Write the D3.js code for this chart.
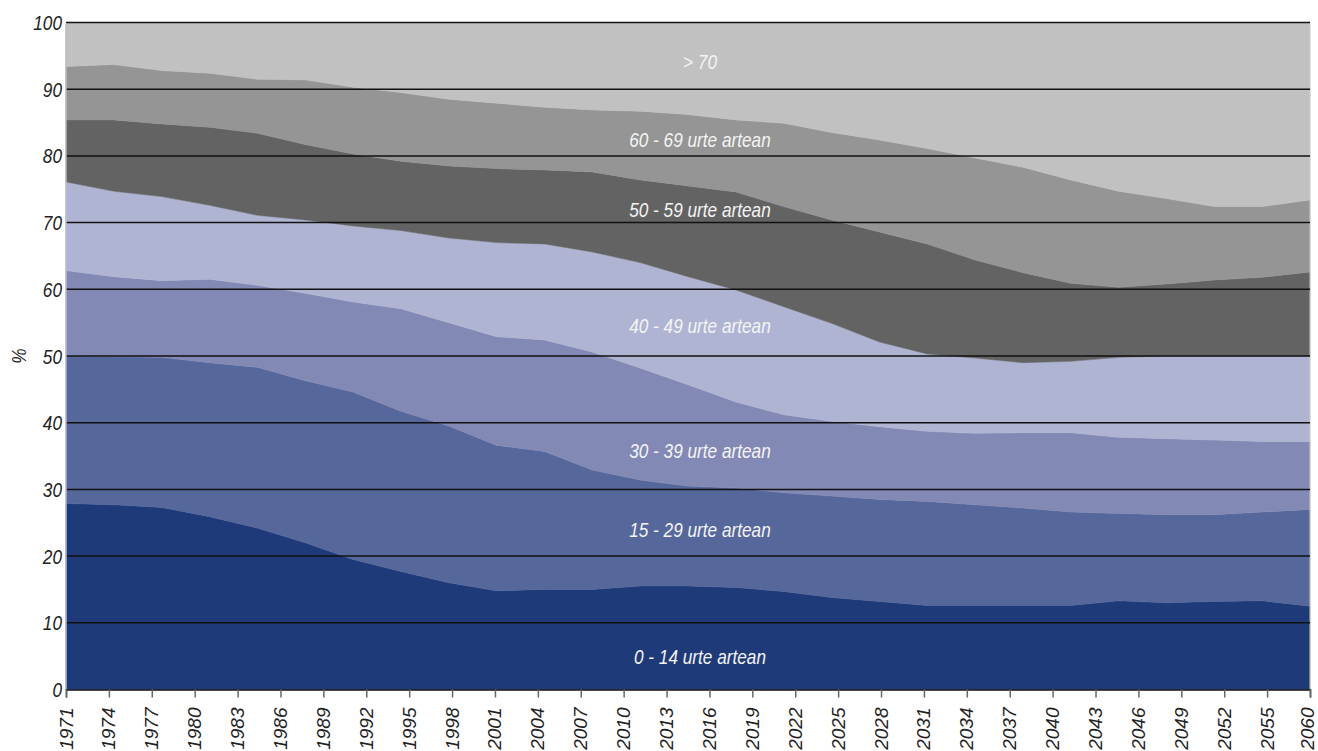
<!DOCTYPE html>
<html>
<head>
<meta charset="utf-8">
<script src="https://cdn.jsdelivr.net/npm/d3@7"></script>
<style>
  html, body { margin: 0; padding: 0; background: #ffffff; }
  svg { display: block; }
</style>
</head>
<body>
<svg id="chart" width="1318" height="751"></svg>
<script>
// Tick labels along the x axis
const tickLabels = ["1971","1974","1977","1980","1983","1986","1989","1992","1995","1998",
  "2001","2004","2007","2010","2013","2016","2019","2022","2025","2028",
  "2031","2034","2037","2040","2043","2046","2049","2052","2055","2060"];

// Age groups (bottom to top)
const groups = ["0 - 14 urte artean","15 - 29 urte artean","30 - 39 urte artean",
  "40 - 49 urte artean","50 - 59 urte artean","60 - 69 urte artean","> 70"];

// Shares (%) per data point (27 evenly spaced observations across the axis)
const age0_14  = [27.9,27.7,27.3,25.9,24.2,22.0,19.5,17.7,16.0,14.8,15.0,15.0,15.5,15.5,15.3,14.7,13.8,13.2,12.6,12.6,12.6,12.6,13.3,13.0,13.2,13.3,12.5];
const age15_29 = [22.1,22.2,22.5,23.1,24.1,24.3,25.1,24.0,23.5,21.8,20.7,17.9,15.9,15.0,14.9,14.8,15.2,15.3,15.6,15.1,14.6,14.0,13.1,13.2,13.0,13.3,14.5];
const age30_39 = [12.8,12.0,11.5,12.5,12.3,13.1,13.5,15.4,15.5,16.3,16.7,17.7,16.8,15.2,12.9,11.7,11.2,10.9,10.5,10.7,11.3,11.9,11.4,11.4,11.2,10.6,10.2];
const age40_49 = [13.3,12.8,12.6,11.1,10.5,11.0,11.4,11.7,12.7,14.1,14.4,15.0,15.8,16.2,16.8,16.2,14.7,12.7,11.6,11.3,10.5,10.7,12.0,12.4,12.6,12.8,12.8];
const age50_59 = [9.3,10.7,10.9,11.7,12.3,11.3,10.8,10.4,10.8,11.1,11.1,12.0,12.4,13.6,14.7,15.0,15.5,16.5,16.5,14.7,13.5,11.7,10.5,10.8,11.4,11.8,12.6];
const age60_69 = [8.0,8.3,8.0,8.1,8.1,9.7,10.0,10.3,10.0,9.8,9.4,9.3,10.3,10.7,10.8,12.5,13.1,13.8,14.3,15.3,15.8,15.5,14.4,12.8,11.0,10.6,10.8];
const age70    = [6.6,6.3,7.2,7.6,8.5,8.6,9.7,10.5,11.5,12.1,12.7,13.1,13.3,13.8,14.6,15.1,16.5,17.6,18.9,20.3,21.7,23.6,25.3,26.4,27.6,27.6,26.6];

const yTicks = [0,10,20,30,40,50,60,70,80,90,100];

const colors = ["#1e3a79","#55679b","#8389b5","#b0b4d3","#636363","#959595","#c1c1c1"];

// label anchor positions (in data units: index along series, value in %)
const labelIdx = [13.25,13.25,13.25,13.25,13.25,13.25,13.25];
const labelVal = [5.0,24.0,35.8,54.6,72.0,82.5,94.1];

// ---------------------------------------------------------------
const seriesArrays = [age0_14, age15_29, age30_39, age40_49, age50_59, age60_69, age70];
const nPts = age0_14.length;
const table = d3.range(nPts).map(i => {
  const row = {idx: i};
  groups.forEach((g, k) => row[g] = seriesArrays[k][i]);
  return row;
});

const FONT = "'Liberation Sans', Arial, sans-serif";
const NARROW = 0.82;

const margin = {left: 66, right: 8, top: 22.5, bottom: 61.5};
const W = 1318, H = 751;
const svg = d3.select("#chart");

const x = d3.scaleLinear().domain([0, nPts - 1]).range([margin.left, W - margin.right]);
const xTick = d3.scalePoint().domain(tickLabels).range([margin.left, W - margin.right]);
const y = d3.scaleLinear().domain([0, 100]).range([H - margin.bottom, margin.top]);

const stacked = d3.stack().keys(groups)(table);

const area = d3.area()
  .x(d => x(d.data.idx))
  .y0(d => y(d[0]))
  .y1(d => y(d[1]));

svg.append("g").selectAll("path")
  .data(stacked)
  .join("path")
  .attr("d", area)
  .attr("fill", (d, i) => colors[i])
  .attr("stroke", (d, i) => colors[i])
  .attr("stroke-width", 0.5);

// right border
svg.append("line")
  .attr("x1", W - margin.right).attr("x2", W - margin.right)
  .attr("y1", y(100)).attr("y2", y(0))
  .attr("stroke", "#cfcfcf").attr("stroke-width", 1);

// gridlines
svg.append("g").selectAll("line")
  .data(yTicks.filter(v => v > 0))
  .join("line")
  .attr("x1", margin.left).attr("x2", W - margin.right)
  .attr("y1", d => y(d)).attr("y2", d => y(d))
  .attr("stroke", "#111").attr("stroke-width", 1.5);

// left axis (line via d3 axis, labels drawn condensed)
const yAxis = d3.axisLeft(y).tickValues(yTicks).tickSize(0).tickFormat("");
const gy = svg.append("g").attr("transform", `translate(${margin.left - 0.5},0)`).call(yAxis);
gy.select(".domain").attr("stroke", "#bdbdbd").attr("stroke-width", 1.5);

svg.append("g").selectAll("text")
  .data(yTicks)
  .join("text")
  .attr("transform", d => `translate(${margin.left - 4},${y(d)}) scale(${NARROW},1)`)
  .attr("dy", "0.36em")
  .attr("text-anchor", "end")
  .attr("font-family", FONT)
  .attr("font-style", "italic")
  .attr("font-size", 21)
  .attr("fill", "#222")
  .text(d => d);

// bottom axis
const xAxis = d3.axisBottom(xTick).tickSize(8).tickPadding(0);
const gx = svg.append("g").attr("transform", `translate(0,${y(0)})`).call(xAxis);
gx.select(".domain").attr("stroke", "#111").attr("stroke-width", 1.5);
gx.selectAll(".tick line").attr("stroke", "#666").attr("stroke-width", 1.5);
const lastLabel = tickLabels[tickLabels.length - 1];
gx.selectAll(".tick text")
  .attr("font-family", FONT)
  .attr("font-style", "italic")
  .attr("font-size", 19)
  .attr("fill", "#222")
  .attr("text-anchor", "end")
  .attr("dy", null)
  .attr("y", 0)
  .attr("transform", d => `translate(${d === lastLabel ? 3 : 6},18) rotate(-90)`);

// y title
svg.append("text")
  .attr("transform", `translate(26,${y(50)}) rotate(-90) scale(${NARROW},1)`)
  .attr("text-anchor", "middle")
  .attr("font-family", FONT)
  .attr("font-style", "italic")
  .attr("font-size", 21)
  .attr("fill", "#222")
  .text("%");

// series labels
svg.append("g").selectAll("text")
  .data(groups)
  .join("text")
  .attr("transform", (d, i) => `translate(${x(labelIdx[i])},${y(labelVal[i])}) scale(${NARROW},1)`)
  .attr("dy", "0.35em")
  .attr("text-anchor", "middle")
  .attr("font-family", FONT)
  .attr("font-style", "italic")
  .attr("font-size", 21)
  .attr("fill", "#f4f4f4")
  .text(d => d);
</script>
</body>
</html>
